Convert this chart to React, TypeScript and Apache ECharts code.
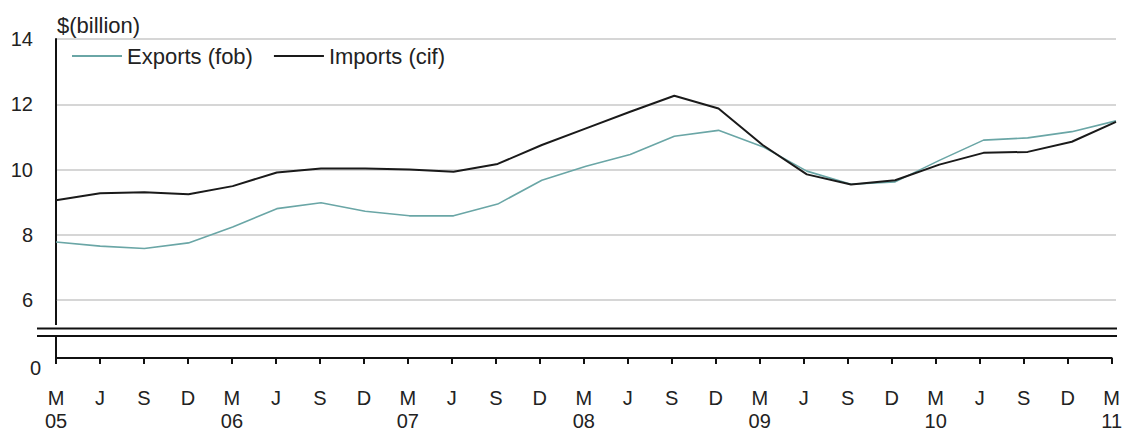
import React, { useEffect, useRef } from "react";
import * as echarts from "echarts";

const categories = [
  "M\n05", "J", "S", "D",
  "M\n06", "J", "S", "D",
  "M\n07", "J", "S", "D",
  "M\n08", "J", "S", "D",
  "M\n09", "J", "S", "D",
  "M\n10", "J", "S", "D",
  "M\n11",
];

const exportsFob = [
  7.78, 7.65, 7.58, 7.75, 8.24, 8.8, 8.98, 8.72, 8.58, 8.58, 8.94, 9.67,
  10.1, 10.46, 11.02, 11.2, 10.7, 9.95, 9.55, 9.62, 10.28, 10.9, 10.97, 11.16, 11.49,
];

const importsCif = [
  9.06, 9.27, 9.3, 9.24, 9.49, 9.91, 10.03, 10.03, 10.0, 9.93, 10.17, 10.75,
  11.26, 11.77, 12.26, 11.87, 10.75, 9.85, 9.54, 9.67, 10.15, 10.51, 10.54, 10.85, 11.46,
];

const upperTicks = { min: 6, max: 14, interval: 2 };
const unitLabel = "$(billion)";
const seriesNames = ["Exports (fob)", "Imports (cif)"];

const FONT = "'Liberation Sans', Arial, sans-serif";
const TEXT = "#222";
const EXP_COLOR = "#6aa6a6";
const IMP_COLOR = "#1a1a1a";

export default function App() {
  const ref = useRef<HTMLDivElement>(null);

  useEffect(() => {
    if (!ref.current) return;
    const chart = echarts.init(ref.current, null, { renderer: "svg" });
    chart.setOption({
      animation: false,
      backgroundColor: "#fff",
      textStyle: { fontFamily: FONT },
      legend: {
        left: 72,
        top: 45,
        padding: 0,
        icon: "rect",
        itemWidth: 50,
        itemHeight: 2,
        itemGap: 21,
        textStyle: { fontSize: 22, color: TEXT, fontFamily: FONT },
        data: [
          { name: seriesNames[0], itemStyle: { color: EXP_COLOR } },
          { name: seriesNames[1], itemStyle: { color: IMP_COLOR } },
        ],
      },
      grid: [
        { left: 56, right: 9, top: 39, height: 261 },
        { left: 56, right: 9, top: 337, height: 27 },
      ],
      xAxis: [
        {
          gridIndex: 0,
          type: "category",
          data: categories,
          boundaryGap: false,
          show: false,
        },
        {
          gridIndex: 1,
          type: "category",
          data: categories,
          boundaryGap: false,
          axisLine: { lineStyle: { color: "#111", width: 2 } },
          axisTick: { show: true, interval: 0, length: 6, lineStyle: { color: "#111", width: 2 } },
          axisLabel: {
            interval: 0,
            fontSize: 20,
            lineHeight: 23,
            margin: 28,
            color: TEXT,
            fontFamily: FONT,
          },
        },
      ],
      yAxis: [
        {
          gridIndex: 0,
          type: "value",
          min: upperTicks.min,
          max: upperTicks.max,
          interval: upperTicks.interval,
          axisLine: { show: true, lineStyle: { color: "#111", width: 2 } },
          axisTick: { show: false },
          axisLabel: { fontSize: 20, margin: 23, color: TEXT, fontFamily: FONT },
          splitLine: { lineStyle: { color: "#c8c8c8", width: 1.5 } },
        },
        {
          gridIndex: 1,
          type: "value",
          min: 0,
          max: 1,
          interval: 1,
          axisLine: { show: true, lineStyle: { color: "#111", width: 2 } },
          axisTick: { show: false },
          splitLine: { show: false },
          axisLabel: {
            fontSize: 20,
            margin: 15,
            color: TEXT,
            fontFamily: FONT,
            verticalAlign: "top",
            lineHeight: 20,
            formatter: (v: number) => (v === 0 ? "0" : ""),
          },
        },
      ],
      series: [
        {
          name: seriesNames[0],
          type: "line",
          xAxisIndex: 0,
          yAxisIndex: 0,
          data: exportsFob,
          symbol: "none",
          lineStyle: { color: EXP_COLOR, width: 1.6 },
          itemStyle: { color: EXP_COLOR },
        },
        {
          name: seriesNames[1],
          type: "line",
          xAxisIndex: 0,
          yAxisIndex: 0,
          data: importsCif,
          symbol: "none",
          lineStyle: { color: IMP_COLOR, width: 2 },
          itemStyle: { color: IMP_COLOR },
        },
      ],
      graphic: [
        {
          type: "text",
          left: 57,
          top: 14,
          style: { text: unitLabel, font: `22px ${FONT}`, fill: TEXT },
        },
        {
          type: "line",
          shape: { x1: 56, y1: 299, x2: 56, y2: 325 },
          style: { stroke: "#111", lineWidth: 2 },
        },
        {
          type: "line",
          shape: { x1: 37, y1: 328.5, x2: 1117, y2: 328.5 },
          style: { stroke: "#111", lineWidth: 2 },
        },
        {
          type: "line",
          shape: { x1: 37, y1: 336, x2: 1117, y2: 336 },
          style: { stroke: "#111", lineWidth: 2 },
        },
      ],
    });
    return () => chart.dispose();
  }, []);

  return (
    <div
      ref={ref}
      style={{ position: "absolute", left: 0, top: 0, width: 1125, height: 432 }}
    />
  );
}
